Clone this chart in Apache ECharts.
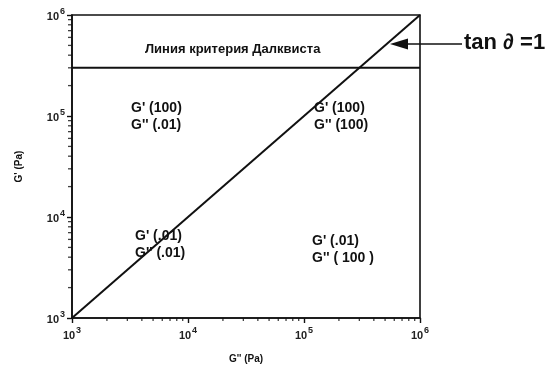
<!DOCTYPE html>
<html>
<head>
<meta charset="utf-8">
<script src="https://cdn.jsdelivr.net/npm/echarts@6/dist/echarts.min.js"></script>
<style>
  html, body { margin: 0; padding: 0; background: #fff; }
  #chart { width: 547px; height: 369px; }
</style>
</head>
<body>
<div id="chart"></div>
<script>
// Axis range (Pa) on both log axes
const axisMin = 1e3;
const axisMax = 1e6;
// Decades that carry 2..9 minor ticks
const decades = [1e3, 1e4, 1e5];
const minorMultipliers = [2, 3, 4, 5, 6, 7, 8, 9];

// tan δ = 1 : G' = G''
const unityLine = [[1e3, 1e3], [1e6, 1e6]];
// Dahlquist criterion level for G'
const dahlquistLevel = 3e5;
const dahlquistLine = [[1e3, dahlquistLevel], [1e6, dahlquistLevel]];

// Region annotations
const regionLabels = [
  ["G' (100)", "G'' (.01)"],
  ["G' (100)", "G'' (100)"],
  ["G' (.01)", "G'' (.01)"],
  ["G' (.01)", "G'' ( 100 )"]
];
const criterionTitle = 'Линия критерия Далквиста';
const arrowTitle = 'tan \u2202 =1';

const minorValues = [];
decades.forEach(d => minorMultipliers.forEach(m => minorValues.push(d * m)));

const ink = '#111';
const fontFamily = '"Liberation Sans", Arial, sans-serif';

function powerLabel(v) {
  const e = Math.round(Math.log10(v));
  return '{b|10}{s|' + e + '}';
}
const richLabel = {
  b: { fontSize: 11, fontWeight: 'bold', color: '#222', fontFamily: fontFamily, verticalAlign: 'bottom', lineHeight: 15 },
  s: { fontSize: 9, fontWeight: 'bold', color: '#222', fontFamily: fontFamily, verticalAlign: 'top', lineHeight: 15, padding: [0, 0, 6, 1] }
};

const axisCommon = {
  type: 'log',
  logBase: 10,
  min: axisMin,
  max: axisMax,
  splitLine: { show: false },
  axisLine: { show: true, lineStyle: { color: ink, width: 1.6 } },
  axisTick: { show: true, inside: false, length: 5, lineStyle: { color: ink, width: 1.4 } },
  minorTick: { show: false },
  nameLocation: 'middle',
  nameTextStyle: { fontSize: 10, fontWeight: 'bold', color: ink, fontFamily: fontFamily }
};

const chart = echarts.init(document.getElementById('chart'), null, { renderer: 'canvas' });

chart.setOption({
  animation: false,
  backgroundColor: '#fff',
  grid: { left: 72, right: 127, top: 15, bottom: 48, show: true, borderColor: ink, borderWidth: 1.6, containLabel: false },
  xAxis: Object.assign({}, axisCommon, {
    name: "G'' (Pa)",
    nameGap: 36,
    axisLabel: { formatter: powerLabel, rich: richLabel, margin: 8 }
  }),
  yAxis: Object.assign({}, axisCommon, {
    name: "G' (Pa)",
    nameGap: 48,
    nameRotate: 90,
    axisLabel: { formatter: powerLabel, rich: richLabel, margin: 7 }
  }),
  series: [
    {
      type: 'line',
      data: unityLine,
      symbol: 'none',
      lineStyle: { color: ink, width: 2 },
      z: 5
    },
    {
      type: 'line',
      data: dahlquistLine,
      symbol: 'none',
      lineStyle: { color: ink, width: 2 },
      z: 5
    },
    {
      // minor ticks on the G' axis
      type: 'scatter',
      data: minorValues.map(v => [axisMin, v]),
      symbol: 'rect',
      symbolSize: [4, 1.3],
      symbolOffset: [-2, 0],
      clip: false,
      itemStyle: { color: ink },
      silent: true
    },
    {
      // minor ticks on the G'' axis
      type: 'scatter',
      data: minorValues.map(v => [v, axisMin]),
      symbol: 'rect',
      symbolSize: [1.3, 3],
      symbolOffset: [0, 1.5],
      clip: false,
      itemStyle: { color: ink },
      silent: true
    }
  ],
  graphic: [
    { type: 'text', left: 145, top: 43, style: { text: criterionTitle, font: 'bold 13px ' + fontFamily, fill: ink } },
    { type: 'text', left: 131, top: 100, style: { text: regionLabels[0].join('\n'), font: 'bold 14px ' + fontFamily, fill: ink, lineHeight: 17 } },
    { type: 'text', left: 314, top: 100, style: { text: regionLabels[1].join('\n'), font: 'bold 14px ' + fontFamily, fill: ink, lineHeight: 17 } },
    { type: 'text', left: 135, top: 228, style: { text: regionLabels[2].join('\n'), font: 'bold 14px ' + fontFamily, fill: ink, lineHeight: 17 } },
    { type: 'text', left: 312, top: 233, style: { text: regionLabels[3].join('\n'), font: 'bold 14px ' + fontFamily, fill: ink, lineHeight: 17 } },
    // arrow pointing at the tan δ = 1 line
    { type: 'line', shape: { x1: 400, y1: 44, x2: 462, y2: 44 }, style: { stroke: ink, lineWidth: 1.6 }, z: 10 },
    { type: 'polygon', shape: { points: [[390, 44], [408, 38.5], [408, 49.5]] }, style: { fill: ink }, z: 10 },
    { type: 'text', left: 464, top: 32, style: { text: arrowTitle, font: 'bold 22px ' + fontFamily, fill: ink }, z: 10 }
  ]
});
</script>
</body>
</html>
